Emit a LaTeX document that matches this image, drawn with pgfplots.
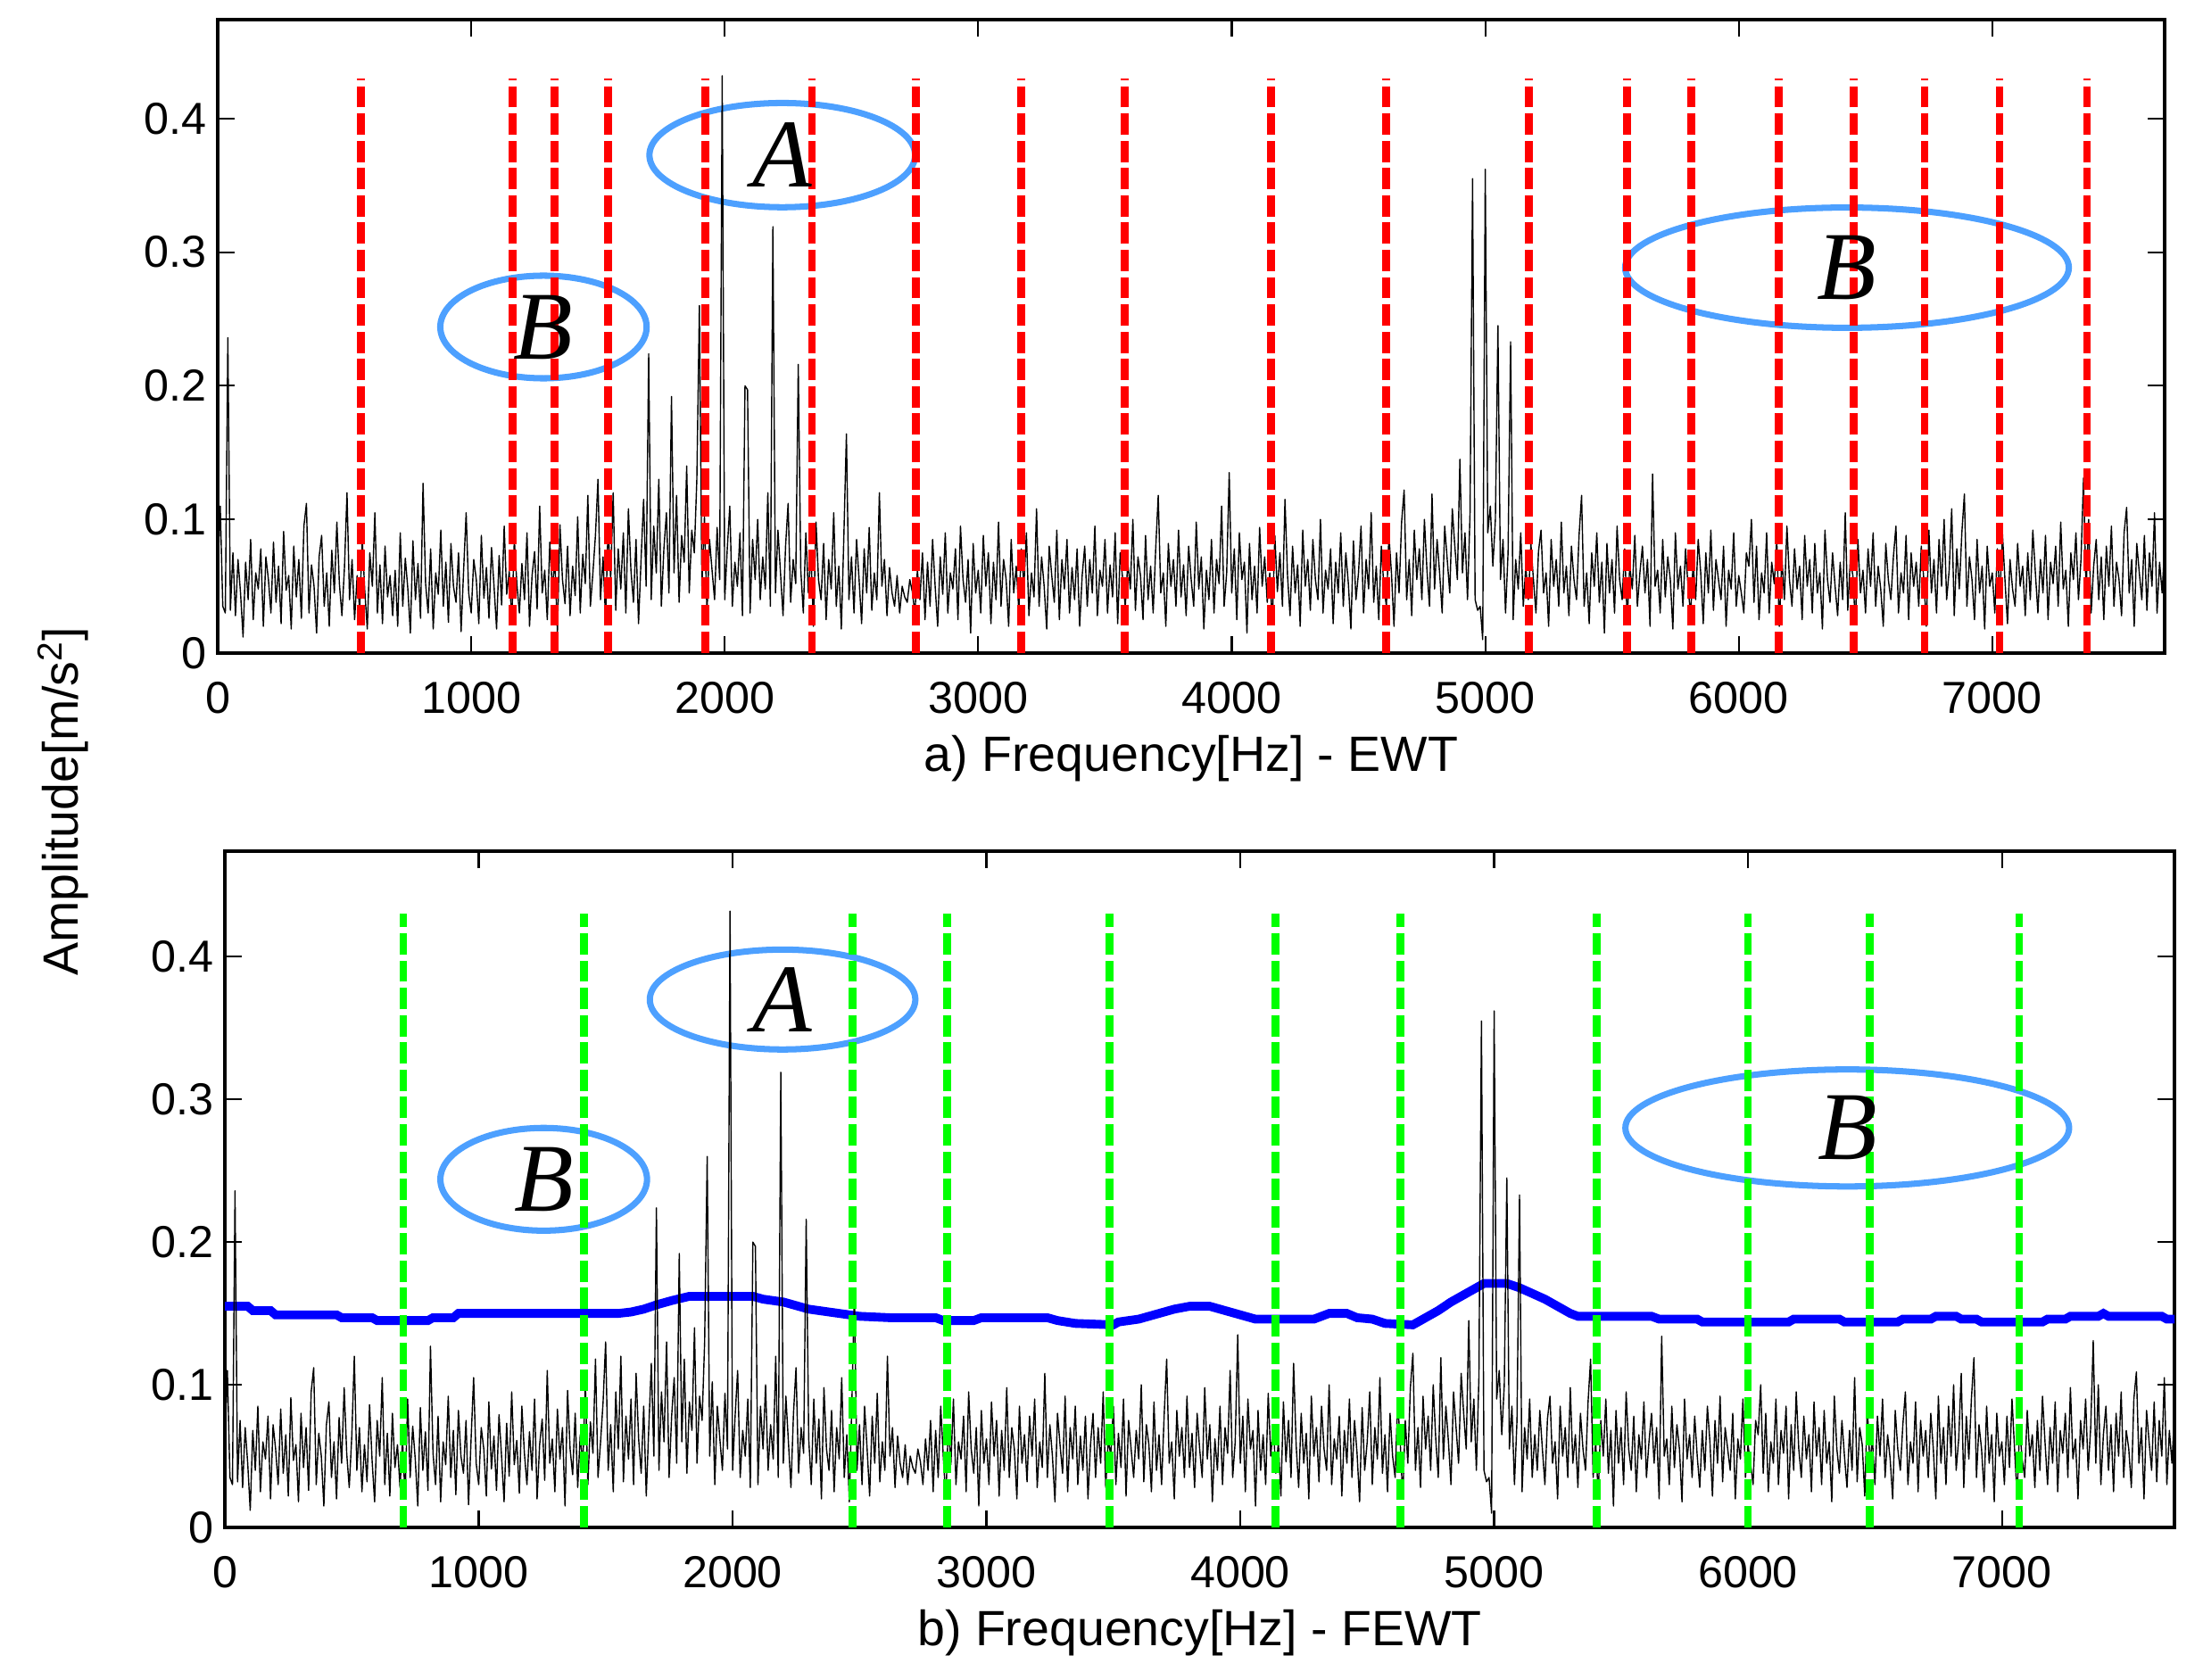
\documentclass[border=0pt]{standalone}
\usepackage{fontspec}
\setmainfont{Liberation Sans}
\newfontfamily\serifit{Liberation Serif}
\usepackage{pgfplots}
\usepackage{pgfplotstable}
\pgfplotsset{compat=1.18}

\definecolor{ellblue}{RGB}{77,160,255}
\definecolor{bndred}{RGB}{255,0,0}
\definecolor{bndgreen}{RGB}{0,255,0}
\definecolor{thrblue}{RGB}{0,0,255}

% amplitude spectrum (same signal in both panels)
\pgfplotstableread[row sep=\\]{
f a\\
0 0.060\\10 0.110\\20 0.035\\30 0.030\\40 0.236\\50 0.032\\60 0.075\\70 0.028\\80 0.070\\90 0.045\\
100 0.012\\110 0.068\\120 0.040\\130 0.085\\140 0.025\\150 0.060\\160 0.048\\170 0.078\\180 0.020\\190 0.072\\
200 0.055\\210 0.030\\220 0.083\\230 0.038\\240 0.065\\250 0.022\\260 0.091\\270 0.047\\280 0.058\\290 0.018\\
300 0.080\\310 0.042\\320 0.070\\330 0.026\\340 0.095\\350 0.112\\360 0.030\\370 0.066\\380 0.050\\390 0.015\\
400 0.072\\410 0.088\\420 0.035\\430 0.060\\440 0.020\\450 0.077\\460 0.045\\470 0.098\\480 0.052\\490 0.028\\
500 0.064\\510 0.120\\520 0.040\\530 0.070\\540 0.025\\550 0.058\\560 0.032\\570 0.086\\580 0.047\\590 0.018\\
600 0.075\\610 0.050\\620 0.105\\630 0.030\\640 0.066\\650 0.022\\660 0.080\\670 0.042\\680 0.058\\690 0.028\\
700 0.062\\710 0.020\\720 0.090\\730 0.035\\740 0.071\\750 0.048\\760 0.015\\770 0.084\\780 0.040\\790 0.067\\
800 0.026\\810 0.127\\820 0.052\\830 0.030\\840 0.078\\850 0.018\\860 0.060\\870 0.044\\880 0.092\\890 0.035\\
900 0.068\\910 0.023\\920 0.082\\930 0.050\\940 0.038\\950 0.075\\960 0.016\\970 0.062\\980 0.105\\990 0.045\\
1000 0.030\\1010 0.070\\1020 0.055\\1030 0.022\\1040 0.088\\1050 0.041\\1060 0.064\\1070 0.026\\1080 0.079\\1090 0.050\\
1100 0.018\\1110 0.073\\1120 0.036\\1130 0.095\\1140 0.044\\1150 0.061\\1160 0.024\\1170 0.085\\1180 0.052\\1190 0.030\\
1200 0.067\\1210 0.040\\1220 0.090\\1230 0.020\\1240 0.058\\1250 0.076\\1260 0.033\\1270 0.110\\1280 0.045\\1290 0.062\\
1300 0.025\\1310 0.083\\1320 0.048\\1330 0.070\\1340 0.015\\1350 0.096\\1360 0.055\\1370 0.037\\1380 0.080\\1390 0.028\\
1400 0.065\\1410 0.043\\1420 0.102\\1430 0.030\\1440 0.074\\1450 0.052\\1460 0.118\\1470 0.035\\1480 0.060\\1490 0.088\\
1500 0.130\\1510 0.040\\1520 0.072\\1530 0.025\\1540 0.095\\1550 0.055\\1560 0.120\\1570 0.032\\1580 0.078\\1590 0.048\\
1600 0.090\\1610 0.030\\1620 0.108\\1630 0.062\\1640 0.038\\1650 0.085\\1660 0.022\\1670 0.070\\1680 0.115\\1690 0.050\\
1700 0.224\\1710 0.040\\1720 0.095\\1730 0.060\\1740 0.130\\1750 0.035\\1760 0.078\\1770 0.105\\1780 0.045\\1790 0.192\\
1800 0.060\\1810 0.118\\1820 0.038\\1830 0.088\\1840 0.068\\1850 0.140\\1860 0.045\\1870 0.092\\1880 0.075\\1890 0.130\\
1900 0.260\\1910 0.050\\1920 0.102\\1930 0.030\\1940 0.085\\1950 0.062\\1960 0.040\\1970 0.094\\1980 0.055\\1990 0.432\\
2000 0.040\\2010 0.078\\2020 0.110\\2030 0.035\\2040 0.068\\2050 0.050\\2060 0.090\\2070 0.028\\2080 0.200\\2090 0.197\\
2100 0.030\\2110 0.085\\2120 0.055\\2130 0.100\\2140 0.040\\2150 0.072\\2160 0.048\\2170 0.120\\2180 0.035\\2190 0.319\\
2200 0.045\\2210 0.092\\2220 0.060\\2230 0.028\\2240 0.080\\2250 0.112\\2260 0.038\\2270 0.070\\2280 0.052\\2290 0.216\\
2300 0.062\\2310 0.030\\2320 0.090\\2330 0.045\\2340 0.076\\2350 0.020\\2360 0.098\\2370 0.055\\2380 0.040\\2390 0.082\\
2400 0.025\\2410 0.070\\2420 0.048\\2430 0.105\\2440 0.035\\2450 0.065\\2460 0.018\\2470 0.088\\2480 0.164\\2490 0.040\\
2500 0.072\\2510 0.030\\2520 0.085\\2530 0.055\\2540 0.022\\2550 0.078\\2560 0.045\\2570 0.094\\2580 0.032\\2590 0.060\\
2600 0.040\\2610 0.120\\2620 0.050\\2630 0.070\\2640 0.028\\2650 0.064\\2660 0.045\\2670 0.035\\2680 0.058\\2690 0.030\\
2700 0.050\\2710 0.042\\2720 0.038\\2730 0.055\\2740 0.046\\2750 0.030\\2760 0.062\\2770 0.040\\2780 0.075\\2790 0.025\\
2800 0.068\\2810 0.035\\2820 0.085\\2830 0.050\\2840 0.020\\2850 0.072\\2860 0.044\\2870 0.090\\2880 0.030\\2890 0.060\\
2900 0.048\\2910 0.078\\2920 0.025\\2930 0.095\\2940 0.055\\2950 0.038\\2960 0.070\\2970 0.015\\2980 0.082\\2990 0.045\\
3000 0.062\\3010 0.030\\3020 0.088\\3030 0.050\\3040 0.075\\3050 0.022\\3060 0.068\\3070 0.040\\3080 0.098\\3090 0.035\\
3100 0.070\\3110 0.055\\3120 0.020\\3130 0.085\\3140 0.045\\3150 0.065\\3160 0.032\\3170 0.078\\3180 0.050\\3190 0.090\\
3200 0.028\\3210 0.060\\3220 0.042\\3230 0.108\\3240 0.035\\3250 0.072\\3260 0.050\\3270 0.018\\3280 0.080\\3290 0.058\\
3300 0.038\\3310 0.092\\3320 0.025\\3330 0.070\\3340 0.048\\3350 0.085\\3360 0.030\\3370 0.064\\3380 0.040\\3390 0.078\\
3400 0.020\\3410 0.058\\3420 0.080\\3430 0.035\\3440 0.070\\3450 0.045\\3460 0.095\\3470 0.028\\3480 0.062\\3490 0.050\\
3500 0.085\\3510 0.030\\3520 0.066\\3530 0.042\\3540 0.090\\3550 0.022\\3560 0.075\\3570 0.055\\3580 0.035\\3590 0.068\\
3600 0.048\\3610 0.100\\3620 0.032\\3630 0.072\\3640 0.058\\3650 0.025\\3660 0.088\\3670 0.040\\3680 0.065\\3690 0.030\\
3700 0.078\\3710 0.118\\3720 0.045\\3730 0.060\\3740 0.020\\3750 0.082\\3760 0.050\\3770 0.070\\3780 0.035\\3790 0.092\\
3800 0.042\\3810 0.066\\3820 0.028\\3830 0.080\\3840 0.055\\3850 0.035\\3860 0.098\\3870 0.048\\3880 0.072\\3890 0.018\\
3900 0.062\\3910 0.040\\3920 0.085\\3930 0.030\\3940 0.070\\3950 0.052\\3960 0.110\\3970 0.035\\3980 0.060\\3990 0.135\\
4000 0.045\\4010 0.078\\4020 0.025\\4030 0.090\\4040 0.055\\4050 0.068\\4060 0.015\\4070 0.082\\4080 0.040\\4090 0.065\\
4100 0.030\\4110 0.094\\4120 0.050\\4130 0.072\\4140 0.038\\4150 0.060\\4160 0.022\\4170 0.088\\4180 0.046\\4190 0.075\\
4200 0.035\\4210 0.115\\4220 0.058\\4230 0.028\\4240 0.080\\4250 0.045\\4260 0.066\\4270 0.020\\4280 0.092\\4290 0.050\\
4300 0.070\\4310 0.032\\4320 0.085\\4330 0.055\\4340 0.040\\4350 0.100\\4360 0.030\\4370 0.062\\4380 0.048\\4390 0.078\\
4400 0.022\\4410 0.068\\4420 0.045\\4430 0.090\\4440 0.035\\4450 0.075\\4460 0.052\\4470 0.018\\4480 0.084\\4490 0.040\\
4500 0.060\\4510 0.095\\4520 0.030\\4530 0.070\\4540 0.048\\4550 0.105\\4560 0.038\\4570 0.065\\4580 0.025\\4590 0.080\\
4600 0.050\\4610 0.035\\4620 0.088\\4630 0.060\\4640 0.020\\4650 0.075\\4660 0.045\\4670 0.098\\4680 0.122\\4690 0.040\\
4700 0.070\\4710 0.028\\4720 0.092\\4730 0.055\\4740 0.078\\4750 0.040\\4760 0.100\\4770 0.062\\4780 0.035\\4790 0.119\\
4800 0.048\\4810 0.085\\4820 0.060\\4830 0.030\\4840 0.095\\4850 0.070\\4860 0.045\\4870 0.108\\4880 0.080\\4890 0.055\\
4900 0.145\\4910 0.060\\4920 0.090\\4930 0.040\\4940 0.105\\4950 0.355\\4960 0.040\\4970 0.032\\4980 0.035\\4990 0.010\\
5000 0.362\\5010 0.090\\5020 0.110\\5030 0.065\\5040 0.100\\5050 0.245\\5060 0.055\\5070 0.085\\5080 0.030\\5090 0.075\\
5100 0.233\\5110 0.025\\5120 0.070\\5130 0.048\\5140 0.090\\5150 0.035\\5160 0.065\\5170 0.040\\5180 0.082\\5190 0.055\\
5200 0.030\\5210 0.076\\5220 0.092\\5230 0.045\\5240 0.060\\5250 0.020\\5260 0.085\\5270 0.050\\5280 0.070\\5290 0.035\\
5300 0.098\\5310 0.045\\5320 0.065\\5330 0.028\\5340 0.080\\5350 0.055\\5360 0.040\\5370 0.088\\5380 0.118\\5390 0.035\\
5400 0.060\\5410 0.022\\5420 0.075\\5430 0.050\\5440 0.090\\5450 0.038\\5460 0.068\\5470 0.015\\5480 0.082\\5490 0.045\\
5500 0.070\\5510 0.030\\5520 0.095\\5530 0.055\\5540 0.040\\5550 0.078\\5560 0.025\\5570 0.065\\5580 0.048\\5590 0.088\\
5600 0.035\\5610 0.060\\5620 0.080\\5630 0.045\\5640 0.070\\5650 0.020\\5660 0.134\\5670 0.050\\5680 0.062\\5690 0.030\\
5700 0.085\\5710 0.042\\5720 0.072\\5730 0.055\\5740 0.018\\5750 0.090\\5760 0.048\\5770 0.065\\5780 0.035\\5790 0.078\\
5800 0.050\\5810 0.028\\5820 0.068\\5830 0.040\\5840 0.085\\5850 0.060\\5860 0.022\\5870 0.075\\5880 0.045\\5890 0.092\\
5900 0.032\\5910 0.070\\5920 0.055\\5930 0.040\\5940 0.080\\5950 0.020\\5960 0.062\\5970 0.048\\5980 0.090\\5990 0.035\\
6000 0.058\\6010 0.045\\6020 0.030\\6030 0.075\\6040 0.065\\6050 0.100\\6060 0.038\\6070 0.080\\6080 0.025\\6090 0.060\\
6100 0.045\\6110 0.090\\6120 0.030\\6130 0.068\\6140 0.052\\6150 0.085\\6160 0.020\\6170 0.072\\6180 0.040\\6190 0.095\\
6200 0.055\\6210 0.035\\6220 0.078\\6230 0.048\\6240 0.065\\6250 0.025\\6260 0.088\\6270 0.050\\6280 0.070\\6290 0.030\\
6300 0.082\\6310 0.045\\6320 0.060\\6330 0.018\\6340 0.092\\6350 0.055\\6360 0.038\\6370 0.075\\6380 0.050\\6390 0.028\\
6400 0.068\\6410 0.040\\6420 0.105\\6430 0.032\\6440 0.070\\6450 0.058\\6460 0.022\\6470 0.085\\6480 0.045\\6490 0.062\\
6500 0.030\\6510 0.078\\6520 0.050\\6530 0.090\\6540 0.035\\6550 0.065\\6560 0.048\\6570 0.020\\6580 0.082\\6590 0.055\\
6600 0.040\\6610 0.072\\6620 0.095\\6630 0.030\\6640 0.060\\6650 0.045\\6660 0.088\\6670 0.025\\6680 0.075\\6690 0.050\\
6700 0.068\\6710 0.035\\6720 0.080\\6730 0.055\\6740 0.020\\6750 0.092\\6760 0.045\\6770 0.070\\6780 0.030\\6790 0.085\\
6800 0.050\\6810 0.100\\6820 0.040\\6830 0.062\\6840 0.108\\6850 0.028\\6860 0.078\\6870 0.048\\6880 0.090\\6890 0.119\\
6900 0.035\\6910 0.072\\6920 0.055\\6930 0.025\\6940 0.085\\6950 0.045\\6960 0.065\\6970 0.018\\6980 0.080\\6990 0.050\\
7000 0.060\\7010 0.030\\7020 0.078\\7030 0.042\\7040 0.090\\7050 0.055\\7060 0.022\\7070 0.070\\7080 0.048\\7090 0.035\\
7100 0.082\\7110 0.050\\7120 0.065\\7130 0.028\\7140 0.075\\7150 0.040\\7160 0.092\\7170 0.060\\7180 0.030\\7190 0.070\\
7200 0.045\\7210 0.088\\7220 0.025\\7230 0.068\\7240 0.052\\7250 0.080\\7260 0.035\\7270 0.098\\7280 0.048\\7290 0.062\\
7300 0.020\\7310 0.075\\7320 0.055\\7330 0.090\\7340 0.040\\7350 0.070\\7360 0.131\\7370 0.045\\7380 0.100\\7390 0.030\\
7400 0.065\\7410 0.085\\7420 0.040\\7430 0.072\\7440 0.025\\7450 0.080\\7460 0.050\\7470 0.095\\7480 0.035\\7490 0.068\\
7500 0.055\\7510 0.028\\7520 0.090\\7530 0.109\\7540 0.045\\7550 0.070\\7560 0.020\\7570 0.082\\7580 0.060\\7590 0.040\\
7600 0.088\\7610 0.032\\7620 0.075\\7630 0.050\\7640 0.105\\7650 0.030\\7660 0.068\\7670 0.045\\7680 0.080\\
}\spec

\pgfplotsset{
  panel/.style={
    scale only axis, anchor=south west,
    xmin=0, xmax=7680, ymin=0, ymax=0.474,
    xtick={0,1000,2000,3000,4000,5000,6000,7000},
    ytick={0,0.1,0.2,0.3,0.4},
    tick align=inside, tick pos=both, ticklabel pos=left,
    major tick length=0.19cm,
    tick style={black, line width=0.6pt},
    axis line style={black, line width=0.9pt},
    scaled ticks=false,
    /pgf/number format/1000 sep={},
    /pgf/number format/assume math mode=true,
    tick label style={font=\fontsize{14.3}{16}\selectfont},
    xticklabel style={yshift=-0.2cm},
    xlabel style={font=\fontsize{15.8}{18}\selectfont},
  },
}
\tikzset{
  ell/.style={ellblue, line width=2pt},
  lett/.style={font=\serifit\itshape\fontsize{31}{31}\selectfont},
}

\begin{document}
\begin{tikzpicture}
\path[use as bounding box] (0,0) rectangle (24.69,18.82);

\begin{axis}[panel, at={(2.44cm,11.50cm)}, width=21.82cm, height=7.10cm,
  xlabel={a) Frequency[Hz] - EWT}]
\draw[ell] (axis cs:2227,0.3726) ellipse [x radius=524, y radius=0.039];
\draw[ell] (axis cs:1285,0.244) ellipse [x radius=407, y radius=0.0384];
\draw[ell] (axis cs:6427,0.2884) ellipse [x radius=875, y radius=0.045];
\addplot[black, line width=0.4pt, line join=round] table[x=f, y=a] {\spec};
\addplot[ycomb, bndred, line width=2.5pt, dash pattern=on 6.8pt off 1.9pt] coordinates {
 (565,0.43) (1164,0.43) (1330,0.43) (1540,0.43) (1923,0.43) (2344,0.43) (2754,0.43)
 (3169,0.43) (3579,0.43) (4156,0.43) (4610,0.43) (5173,0.43) (5558,0.43) (5813,0.43)
 (6158,0.43) (6454,0.43) (6733,0.43) (7029,0.43) (7374,0.43)};
\node[lett] at (axis cs:2227,0.3726) {A};
\node[lett] at (axis cs:1285,0.244) {B};
\node[lett] at (axis cs:6427,0.2884) {B};
\end{axis}

\begin{axis}[panel, at={(2.52cm,1.70cm)}, width=21.85cm, height=7.58cm,
  xlabel={b) Frequency[Hz] - FEWT}]
\draw[ell] (axis cs:2197,0.370) ellipse [x radius=523, y radius=0.035];
\draw[ell] (axis cs:1256,0.244) ellipse [x radius=407, y radius=0.036];
\draw[ell] (axis cs:6391,0.280) ellipse [x radius=874, y radius=0.041];
\addplot[thrblue, line width=2.8pt] coordinates {
 (0,0.155) (90,0.155) (110,0.152) (180,0.152) (200,0.149) (440,0.149) (460,0.147) (580,0.147)
 (600,0.145) (800,0.145) (820,0.147) (900,0.147) (920,0.150) (1550,0.150) (1600,0.151)
 (1650,0.153) (1700,0.156) (1760,0.159) (1830,0.162) (2080,0.162) (2120,0.160) (2200,0.158)
 (2260,0.155) (2300,0.153) (2420,0.150) (2500,0.148) (2620,0.147) (2800,0.147) (2830,0.145)
 (2950,0.145) (2980,0.147) (3240,0.147) (3280,0.145) (3350,0.143) (3500,0.142) (3520,0.144)
 (3600,0.146) (3680,0.150) (3740,0.153) (3800,0.155) (3880,0.155) (3940,0.152) (4000,0.149)
 (4060,0.146) (4290,0.146) (4320,0.148) (4350,0.150) (4420,0.150) (4460,0.147) (4520,0.146)
 (4570,0.143) (4680,0.142) (4720,0.146) (4780,0.152) (4830,0.158) (4880,0.163) (4920,0.167)
 (4960,0.171) (5050,0.171) (5100,0.168) (5150,0.164) (5200,0.160) (5250,0.155) (5300,0.150)
 (5330,0.148) (5620,0.148) (5650,0.146) (5800,0.146) (5820,0.144) (6160,0.144) (6180,0.146)
 (6360,0.146) (6380,0.144) (6590,0.144) (6610,0.146) (6720,0.146) (6740,0.148) (6820,0.148)
 (6840,0.146) (6900,0.146) (6920,0.144) (7160,0.144) (7180,0.146) (7250,0.146) (7270,0.148)
 (7380,0.148) (7400,0.150) (7420,0.148) (7630,0.148) (7650,0.146) (7680,0.146)};
\addplot[black, line width=0.4pt, line join=round] table[x=f, y=a] {\spec};
\addplot[ycomb, bndgreen, line width=2.5pt, dash pattern=on 6.8pt off 1.9pt] coordinates {
 (703,0.43) (1416,0.43) (2473,0.43) (2844,0.43) (3486,0.43) (4139,0.43) (4631,0.43)
 (5403,0.43) (6000,0.43) (6480,0.43) (7068,0.43)};
\node[lett] at (axis cs:2197,0.370) {A};
\node[lett] at (axis cs:1256,0.244) {B};
\node[lett] at (axis cs:6391,0.280) {B};
\end{axis}

\node[rotate=90, font=\fontsize{15.8}{18}\selectfont] at (0.71,9.84) {Amplitude[m/s\textsuperscript{2}]};
\end{tikzpicture}
\end{document}
